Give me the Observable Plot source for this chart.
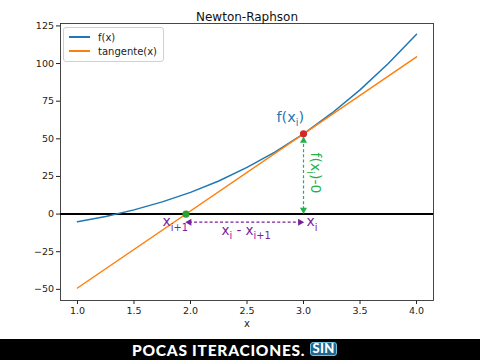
<!DOCTYPE html>
<html><head><meta charset="utf-8">
<script src="https://cdn.jsdelivr.net/npm/d3@7"></script>
<script src="https://cdn.jsdelivr.net/npm/@observablehq/plot@0.6"></script>
<style>
body{margin:0;background:#fff;}
#wrap{position:relative;width:480px;height:360px;overflow:hidden;background:#fff;font-family:"DejaVu Sans",sans-serif;}
#legend{position:absolute;left:63px;top:27px;width:101px;height:35px;border:1px solid #d0d0d0;border-radius:3px;background:rgba(255,255,255,0.85);box-sizing:border-box;font-size:10px;color:#222;}
.li{position:absolute;left:5px;height:12px;line-height:12px;}
.sw{display:inline-block;width:21px;height:0;border-top:2px solid;vertical-align:middle;margin-right:8px;position:relative;top:-1px;}
#banner{position:absolute;left:0;top:339px;width:480px;height:21px;background:#000;}
#btext{position:absolute;left:132px;top:1px;height:20px;line-height:20px;color:#fff;font-family:Lato,"Open Sans",sans-serif;font-weight:900;font-size:15.5px;letter-spacing:0.75px;white-space:nowrap;}
#btag{position:absolute;left:310px;top:3px;width:27px;height:14px;box-sizing:border-box;border:1.5px solid #6cc0e0;border-radius:3px;background:#1f6690;color:#fff;font-family:Lato,"Open Sans",sans-serif;font-weight:900;font-size:13px;line-height:11px;text-align:center;letter-spacing:0.3px;}
</style></head><body><div id="wrap"></div><script>
// ---- data ----
const fX = [1.0, 1.25, 1.5, 1.75, 2.0, 2.25, 2.5, 2.75, 3.0, 3.25, 3.5, 3.75, 4.0];
const fY = [-5.1, -1.6, 2.8, 8.1, 14.4, 22.0, 31.0, 41.3, 53.3, 67.0, 82.5, 100.0, 119.5];
const tanX = [1.0, 4.0];
const tanY = [-49.1, 104.5];
const xi = 3.0;       // x_i
const fxi = 53.3;     // f(x_i)
const xi1 = 1.96;     // x_{i+1}
const arrowY = -5.4;  // level of the horizontal arrow
const xTicks = [1.0, 1.5, 2.0, 2.5, 3.0, 3.5, 4.0];
const yTicks = [-50, -25, 0, 25, 50, 75, 100, 125];
const seriesNames = ["f(x)", "tangente(x)"];
const titleText = "Newton-Raphson";
const xLabel = "x";
const annFxi = "f(x_{i})";
const annDiffV = "f(x_{i})-0";
const annXi1 = "x_{i+1}";
const annXi = "x_{i}";
const annDiffH = "x_{i} - x_{i+1}";
const bannerText = "POCAS ITERACIONES.";
const bannerTag = "SIN";

const blue = "#1f77b4", orange = "#ff7f0e", green = "#22b14c", purple = "#7a1f9a";

const fData = fX.map((x, i) => ({x, y: fY[i]}));
const tData = tanX.map((x, i) => ({x, y: tanY[i]}));

const chart = Plot.plot({
  width: 480, height: 339,
  marginLeft: 60, marginRight: 47, marginTop: 23, marginBottom: 39,
  style: {fontFamily: "DejaVu Sans", fontSize: "9.5px", color: "#222", background: "white"},
  x: {domain: [0.85, 4.15], ticks: xTicks, tickFormat: d3.format(".1f"), tickSize: 4, tickPadding: 3, label: null},
  y: {domain: [-57.4, 126.6], ticks: yTicks, tickFormat: d3.format("d"), tickSize: 4, tickPadding: 2.5, label: null},
  marks: [
    Plot.frame({stroke: "#333", strokeWidth: 0.9}),
    Plot.ruleY([0], {stroke: "#000", strokeWidth: 2}),
    Plot.line(fData, {x: "x", y: "y", stroke: blue, strokeWidth: 1.5}),
    Plot.line(tData, {x: "x", y: "y", stroke: orange, strokeWidth: 1.5}),
    // vertical green double arrow
    Plot.ruleX([xi], {y1: 2.8, y2: fxi - 4.5, stroke: green, strokeWidth: 1.2, strokeDasharray: "3,2.2"}),
    Plot.dot([{x: xi, y: fxi - 4.5}], {x: "x", y: "y", symbol: "triangle", r: 2.6, fill: green, stroke: "none"}),
    Plot.dot([{x: xi, y: 2.8}], {x: "x", y: "y", symbol: "triangle", r: 2.6, fill: green, stroke: "none", rotate: 180}),
    // horizontal purple double arrow
    Plot.ruleY([arrowY], {x1: xi1 + 0.03, x2: xi - 0.03, stroke: purple, strokeWidth: 1.2, strokeDasharray: "3,2.2"}),
    Plot.dot([{x: xi1 + 0.03, y: arrowY}], {x: "x", y: "y", symbol: "triangle", r: 2.6, fill: purple, stroke: "none", rotate: -90}),
    Plot.dot([{x: xi - 0.03, y: arrowY}], {x: "x", y: "y", symbol: "triangle", r: 2.6, fill: purple, stroke: "none", rotate: 90}),
    // points
    Plot.dot([{x: xi, y: fxi}], {x: "x", y: "y", r: 3.6, fill: "#d62728", stroke: "none"}),
    Plot.dot([{x: xi1, y: 0}], {x: "x", y: "y", r: 3.6, fill: "#2ca02c", stroke: "none"}),
    // annotations
    Plot.text([annFxi], {x: xi - 0.117, y: fxi + 11.1, text: d => d, fill: blue, fontSize: 14.5, fontFamily: "DejaVu Sans"}),
    Plot.text([annDiffV], {x: xi + 0.108, y: 27.3, text: d => d, fill: green, fontSize: 14, rotate: 90, fontFamily: "DejaVu Sans"}),
    Plot.text([annXi1], {x: xi1 + 0.017, y: arrowY + 0.3, text: d => d, fill: purple, fontSize: 14, textAnchor: "end", fontFamily: "DejaVu Sans"}),
    Plot.text([annXi], {x: xi + 0.026, y: arrowY + 0.3, text: d => d, fill: purple, fontSize: 14, textAnchor: "start", fontFamily: "DejaVu Sans"}),
    Plot.text([annDiffH], {x: 2.492, y: -11, text: d => d, fill: purple, fontSize: 13.5, fontFamily: "DejaVu Sans"}),
    // title and x label
    Plot.text([titleText], {frameAnchor: "top", dy: -11.5, text: d => d, fontSize: 12, fill: "#111"}),
    Plot.text([xLabel], {frameAnchor: "bottom", dy: 26, text: d => d, fontSize: 10, fill: "#222"})
  ]
});

// render subscripts written as _{...}
d3.select(chart).selectAll("text").each(function() {
  const s = this.textContent;
  if (!s.includes("_") || this.childElementCount) return;
  const fs = parseFloat(this.getAttribute("font-size")) || 14;
  const sel = d3.select(this);
  sel.text(null);
  const re = /_\{([^}]*)\}/g;
  let last = 0, m, shifted = false;
  const shift = fs * 0.32;
  while ((m = re.exec(s))) {
    if (m.index > last) {
      const t = sel.append("tspan").text(s.slice(last, m.index));
      if (shifted) { t.attr("dy", -shift); shifted = false; }
    }
    sel.append("tspan").attr("font-size", fs * 0.7).attr("dy", shift).text(m[1]);
    shifted = true;
    last = re.lastIndex;
  }
  if (last < s.length) {
    const t = sel.append("tspan").text(s.slice(last));
    if (shifted) t.attr("dy", -shift);
  }
});

const wrap = document.getElementById("wrap");
wrap.appendChild(chart);

// legend
const legend = document.createElement("div");
legend.id = "legend";
[blue, orange].forEach((c, i) => {
  const row = document.createElement("div");
  row.className = "li";
  row.style.top = (4 + i * 14) + "px";
  const sw = document.createElement("span");
  sw.className = "sw";
  sw.style.borderTopColor = c;
  row.appendChild(sw);
  row.appendChild(document.createTextNode(seriesNames[i]));
  legend.appendChild(row);
});
wrap.appendChild(legend);

// banner
const banner = document.createElement("div");
banner.id = "banner";
const bt = document.createElement("div");
bt.id = "btext"; bt.textContent = bannerText;
const tag = document.createElement("div");
tag.id = "btag"; tag.textContent = bannerTag;
banner.appendChild(bt); banner.appendChild(tag);
wrap.appendChild(banner);
</script></body></html>
